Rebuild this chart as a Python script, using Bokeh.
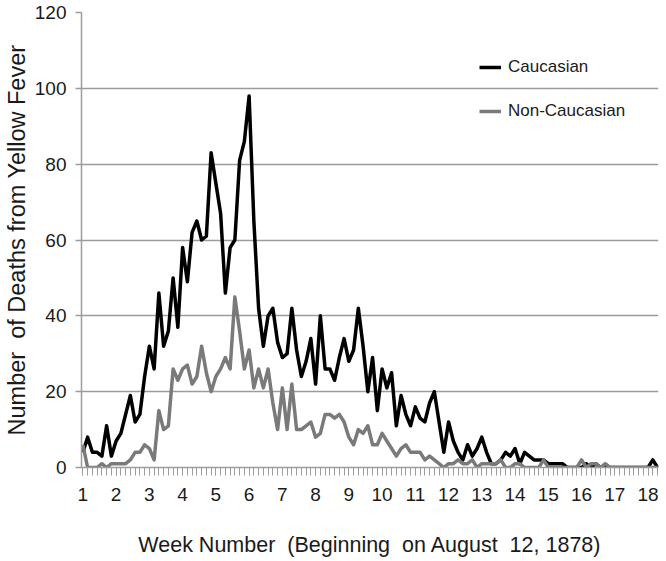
from bokeh.plotting import figure
from bokeh.models import Range1d, FixedTicker, Legend, LegendItem, ColumnDataSource
from bokeh.embed import file_html
from bokeh.resources import INLINE

# Daily deaths from yellow fever, day index 0 = August 12, 1878
days = list(range(122))
caucasian = [
    4, 8, 4, 4, 3, 11, 3, 7, 9, 14,
    19, 12, 14, 24, 32, 26, 46, 32, 36, 50,
    37, 58, 49, 62, 65, 60, 61, 83, 75, 67,
    46, 58, 60, 81, 86, 98, 65, 42, 32, 40,
    42, 33, 29, 30, 42, 31, 24, 28, 34, 22,
    40, 26, 26, 23, 29, 34, 28, 31, 42, 32,
    20, 29, 15, 26, 21, 25, 11, 19, 14, 11,
    16, 13, 12, 17, 20, 12, 4, 12, 7, 4,
    2, 6, 3, 5, 8, 4, 1, 1, 2, 4,
    3, 5, 1, 4, 3, 2, 2, 2, 1, 1,
    1, 1, 0, 0, 0, 0, 1, 0, 1, 0,
    0, 0, 0, 0, 0, 0, 0, 0, 0, 0,
    2, 0,
]
non_caucasian = [
    6, 0, 0, 0, 1, 0, 1, 1, 1, 1,
    2, 4, 4, 6, 5, 2, 15, 10, 11, 26,
    23, 26, 27, 22, 24, 32, 25, 20, 24, 26,
    29, 26, 45, 36, 26, 31, 21, 26, 21, 26,
    17, 10, 21, 10, 22, 10, 10, 11, 12, 8,
    9, 14, 14, 13, 14, 12, 8, 6, 10, 9,
    11, 6, 6, 9, 7, 5, 3, 5, 6, 4,
    4, 4, 2, 3, 2, 1, 0, 1, 1, 2,
    1, 1, 2, 0, 1, 1, 1, 1, 2, 0,
    0, 1, 1, 0, 0, 0, 0, 2, 0, 0,
    0, 0, 0, 0, 0, 2, 0, 1, 1, 0,
    1, 0, 0, 0, 0, 0, 0, 0, 0, 0,
    0, 0,
]
week_ticks = [0, 7, 14, 21, 28, 35, 42, 49, 56, 63, 70, 77, 84, 91, 98, 105, 112, 119]
week_labels = ["1", "2", "3", "4", "5", "6", "7", "8", "9", "10",
               "11", "12", "13", "14", "15", "16", "17", "18"]
y_ticks = [0, 20, 40, 60, 80, 100, 120]
series_names = ["Caucasian", "Non-Caucasian"]

FONT = "Liberation Sans"
GRID = "#9c9c9c"
NB = "\u00a0"

src = ColumnDataSource(dict(day=days, cauc=caucasian, non=non_caucasian))

p = figure(width=666, height=561, output_backend="svg", toolbar_location=None,
           x_range=Range1d(-0.29, 121.2), y_range=Range1d(0, 120),
           min_border_left=80, min_border_right=8, min_border_top=12,
           min_border_bottom=94, background_fill_color="white",
           border_fill_color="white")
p.outline_line_color = None
p.xgrid.grid_line_color = None
p.ygrid.grid_line_color = GRID
p.ygrid.grid_line_width = 1.5

r1 = p.line("day", "cauc", source=src, line_color="black", line_width=3.5,
            line_join="round")
r2 = p.line("day", "non", source=src, line_color="#7a7a7a", line_width=3.5,
            line_join="round")

# y axis
p.yaxis.ticker = FixedTicker(ticks=y_ticks)
p.yaxis.axis_line_color = GRID
p.yaxis.axis_line_width = 1.5
p.yaxis.major_tick_line_color = GRID
p.yaxis.major_tick_line_width = 1.5
p.yaxis.major_tick_out = 6
p.yaxis.major_tick_in = 0
p.yaxis.minor_tick_line_color = None
p.yaxis.major_label_standoff = 9
p.yaxis.major_label_text_font = FONT
p.yaxis.major_label_text_font_size = "19px"
p.yaxis.major_label_text_color = "#1a1a1a"
p.yaxis.axis_label = "Number" + NB + " of Deaths from Yellow Fever"
p.yaxis.axis_label_text_font = FONT
p.yaxis.axis_label_text_font_size = "23.5px"
p.yaxis.axis_label_text_font_style = "normal"
p.yaxis.axis_label_text_color = "#1a1a1a"
p.yaxis.axis_label_standoff = 2

# x axis
p.xaxis.ticker = FixedTicker(ticks=week_ticks, minor_ticks=days)
p.xaxis.major_label_overrides = dict(zip(week_ticks, week_labels))
p.xaxis.axis_line_color = GRID
p.xaxis.axis_line_width = 1.5
p.xaxis.major_tick_line_color = GRID
p.xaxis.minor_tick_line_color = GRID
p.xaxis.major_tick_out = 8
p.xaxis.major_tick_in = 0
p.xaxis.minor_tick_out = 8
p.xaxis.minor_tick_in = 0
p.xaxis.major_label_standoff = 12
p.xaxis.major_label_text_font = FONT
p.xaxis.major_label_text_font_size = "19px"
p.xaxis.major_label_text_color = "#1a1a1a"
p.xaxis.axis_label = ("Week Number " + NB + "(Beginning " + NB + "on August " + NB
                      + "12, 1878)")
p.xaxis.axis_label_text_font = FONT
p.xaxis.axis_label_text_font_size = "21.5px"
p.xaxis.axis_label_text_font_style = "normal"
p.xaxis.axis_label_text_color = "#1a1a1a"
p.xaxis.axis_label_standoff = 29

legend = Legend(items=[LegendItem(label=series_names[0], renderers=[r1]),
                       LegendItem(label=series_names[1], renderers=[r2])],
                location=(398, 346), orientation="vertical",
                label_text_font=FONT, label_text_font_size="17px",
                label_text_color="#1a1a1a",
                glyph_width=22, glyph_height=20, label_height=20,
                label_standoff=7, spacing=24, padding=0, margin=0,
                border_line_color=None, background_fill_alpha=0)
p.add_layout(legend)

open("out.html", "w").write(file_html(p, INLINE))
